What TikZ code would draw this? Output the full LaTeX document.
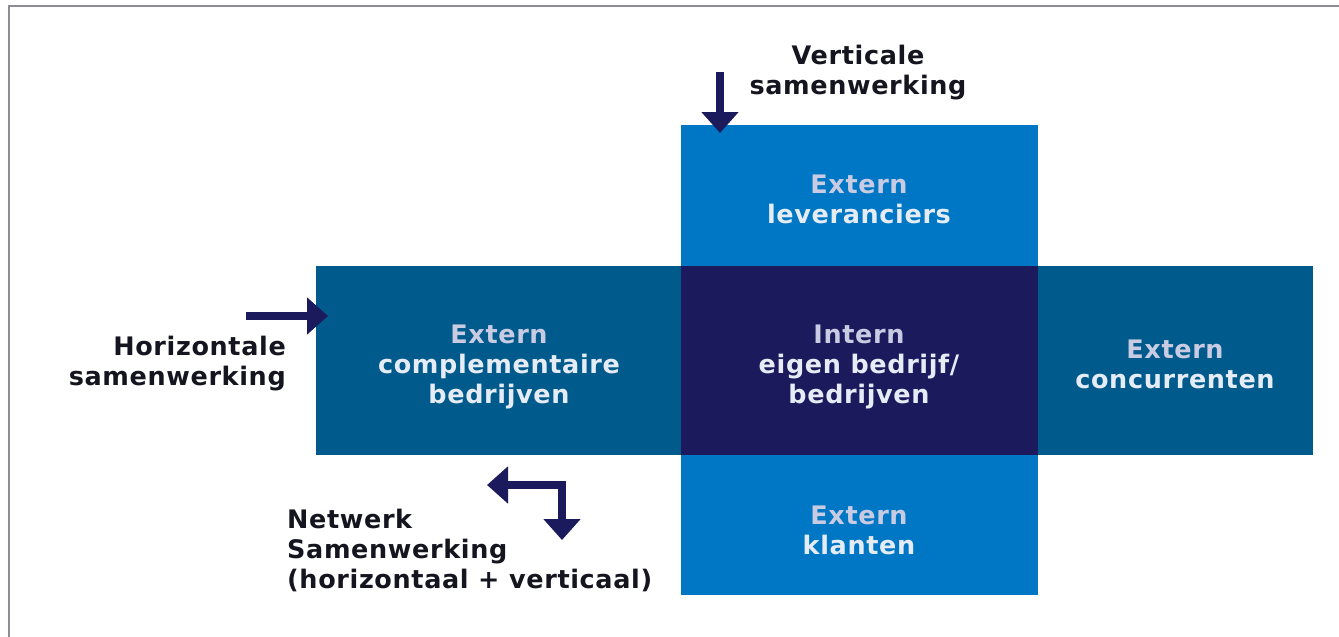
\documentclass[tikz,border=0pt]{standalone}
\usepackage{fontspec}
\setmainfont{DejaVu Sans}[LetterSpace=2.5]
\usetikzlibrary{arrows.meta}
\definecolor{brightblue}{HTML}{0077C4}
\definecolor{bandblue}{HTML}{005B8C}
\definecolor{navy}{HTML}{1B1A5C}
\definecolor{txtlav}{HTML}{C9CBE3}
\definecolor{txtwhite}{HTML}{E6ECF6}
\definecolor{labeltxt}{HTML}{15151F}
\definecolor{framegray}{HTML}{8C8C94}
\tikzset{
  blockbox/.style={draw=none, inner sep=0pt, align=center, font=\fontsize{25.5}{30}\selectfont\bfseries, text=txtwhite},
  lbl/.style={inner sep=0pt, font=\fontsize{25.5}{30}\selectfont\bfseries, text=labeltxt},
  fatarrow/.style={draw=navy, line width=8pt, -{Triangle[length=21pt,width=36pt]}},
  fatarrows/.style={draw=navy, line width=8pt, {Triangle[length=21pt,width=36pt]}-{Triangle[length=21pt,width=36pt]}}
}
\begin{document}
\begin{tikzpicture}[x=1pt,y=-1pt]
\useasboundingbox (0,0) rectangle (1339,637);
\fill[white] (0,0) rectangle (1339,637);
\draw[framegray, line width=2pt] (9,640) -- (9,6) -- (1340,6);
% column and band
\node[blockbox, fill=brightblue, minimum width=357pt, minimum height=470pt, anchor=north west] (col) at (681,125) {};
\node[blockbox, fill=bandblue, minimum width=997pt, minimum height=189pt, anchor=north west] (band) at (316,266) {};
\node[blockbox, fill=navy, minimum width=357pt, minimum height=189pt, anchor=north west] (center) at (681,266) {};
% texts
\node[blockbox] (top) at (859,199) {\textcolor{txtlav}{Extern}\\leveranciers};
\node[blockbox] (left) at (499,367) {\textcolor{txtlav}{Extern}\\complementaire\\bedrijven};
\node[blockbox] (mid) at (859,367) {\textcolor{txtlav}{Intern}\\eigen bedrijf/\\bedrijven};
\node[blockbox] (right) at (1175,364) {\textcolor{txtlav}{Extern}\\concurrenten};
\node[blockbox] (bottom) at (859,530) {\textcolor{txtlav}{Extern}\\klanten};
% labels
\node[lbl, align=center] (vlab) at (858,73) {Verticale\\samenwerking};
\node[lbl, align=right, anchor=east] (hlab) at (286,364) {Horizontale\\samenwerking};
\node[lbl, align=left, anchor=west] (nlab) at (287,550) {Netwerk\\Samenwerking\\(horizontaal + verticaal)};
% arrows
\coordinate (vs) at (720,72);
\coordinate (ve) at (720,133);
\draw[fatarrow] (vs) -- (ve);
\coordinate (hs) at (246,316);
\coordinate (he) at (328,316);
\draw[fatarrow] (hs) -- (he);
\coordinate (ns) at (487,485);
\coordinate (nc) at (562,485);
\coordinate (ne) at (562,540);
\draw[fatarrows, line join=miter] (ns) -- (nc) -- (ne);
\end{tikzpicture}
\end{document}
